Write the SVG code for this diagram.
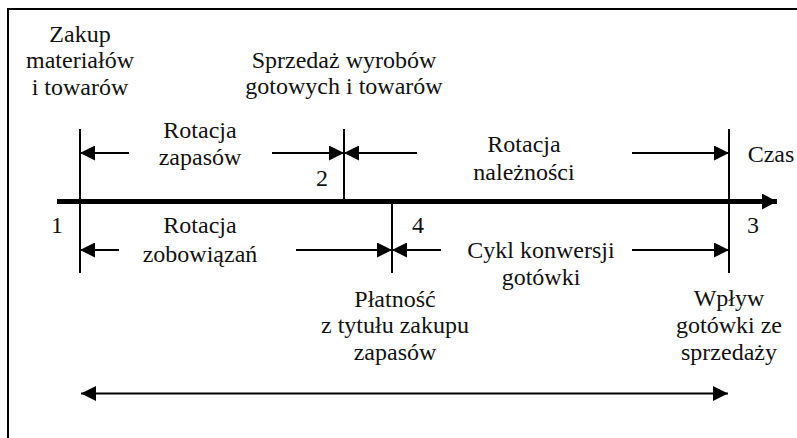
<svg xmlns="http://www.w3.org/2000/svg" width="797" height="438" viewBox="0 0 797 438">
<style>
text{font-family:"Liberation Serif","Times New Roman",Tinos,"Noto Serif","DejaVu Serif",FreeSerif,serif;font-size:24px;fill:#111;text-anchor:middle}
.l{stroke:#000;stroke-width:2;fill:none}
.a{stroke:#000;stroke-width:2;fill:none;marker-end:url(#ah)}
</style>
<defs>
<marker id="ah" markerUnits="userSpaceOnUse" markerWidth="16" markerHeight="15" refX="15" refY="7.5" orient="auto">
<path d="M0,0 L15,7.5 L0,15 z" fill="#000"/>
</marker>
<marker id="axh" markerUnits="userSpaceOnUse" markerWidth="16" markerHeight="16" refX="15" refY="8" orient="auto">
<path d="M0,0 L15,8 L0,16 z" fill="#000"/>
</marker>
</defs>
<rect x="8" y="9" width="800" height="440" fill="#fff" stroke="#000" stroke-width="2"/>
<g id="connectors">
<line x1="57" y1="201.5" x2="777" y2="201.5" stroke="#000" stroke-width="5" marker-end="url(#axh)"/>
<line class="l" x1="80" y1="129" x2="80" y2="273"/>
<line class="l" x1="344" y1="129" x2="344" y2="201"/>
<line class="l" x1="392" y1="201" x2="392" y2="273"/>
<line class="l" x1="729" y1="129" x2="729" y2="273"/>
<line class="a" x1="129" y1="153" x2="80" y2="153"/>
<line class="a" x1="272" y1="153" x2="344" y2="153"/>
<line class="a" x1="417" y1="153" x2="344" y2="153"/>
<line class="a" x1="632" y1="153" x2="729" y2="153"/>
<line class="a" x1="119" y1="250" x2="80" y2="250"/>
<line class="a" x1="296" y1="250" x2="392" y2="250"/>
<line class="a" x1="441" y1="250" x2="392" y2="250"/>
<line class="a" x1="632" y1="250" x2="729" y2="250"/>
<line class="a" x1="300" y1="393.5" x2="81" y2="393.5" stroke-width="2.5"/>
<line class="a" x1="300" y1="393.5" x2="728" y2="393.5" stroke-width="2.5"/>
</g>
<g id="zakup"><text x="80" y="42">Zakup</text><text x="80" y="68">materiałów</text><text x="80" y="95">i towarów</text></g>
<g id="sprzedaz"><text x="344" y="68">Sprzedaż wyrobów</text><text x="344" y="94">gotowych i towarów</text></g>
<g id="rot-zapasow"><text x="200" y="138">Rotacja</text><text x="200" y="165">zapasów</text></g>
<g id="rot-naleznosci"><text x="524" y="152">Rotacja</text><text x="524" y="180">należności</text></g>
<g id="czas"><text x="771" y="162">Czas</text></g>
<g id="p2"><text x="322" y="186">2</text></g>
<g id="p1"><text x="57" y="233">1</text></g>
<g id="p4"><text x="418" y="233">4</text></g>
<g id="p3"><text x="753" y="233">3</text></g>
<g id="rot-zobowiazan"><text x="200" y="233">Rotacja</text><text x="200" y="262">zobowiązań</text></g>
<g id="cykl"><text x="541" y="258">Cykl konwersji</text><text x="541" y="285">gotówki</text></g>
<g id="platnosc"><text x="395" y="307">Płatność</text><text x="395" y="333">z tytułu zakupu</text><text x="395" y="360">zapasów</text></g>
<g id="wplyw"><text x="729" y="306">Wpływ</text><text x="729" y="333">gotówki ze</text><text x="729" y="360">sprzedaży</text></g>
</svg>
